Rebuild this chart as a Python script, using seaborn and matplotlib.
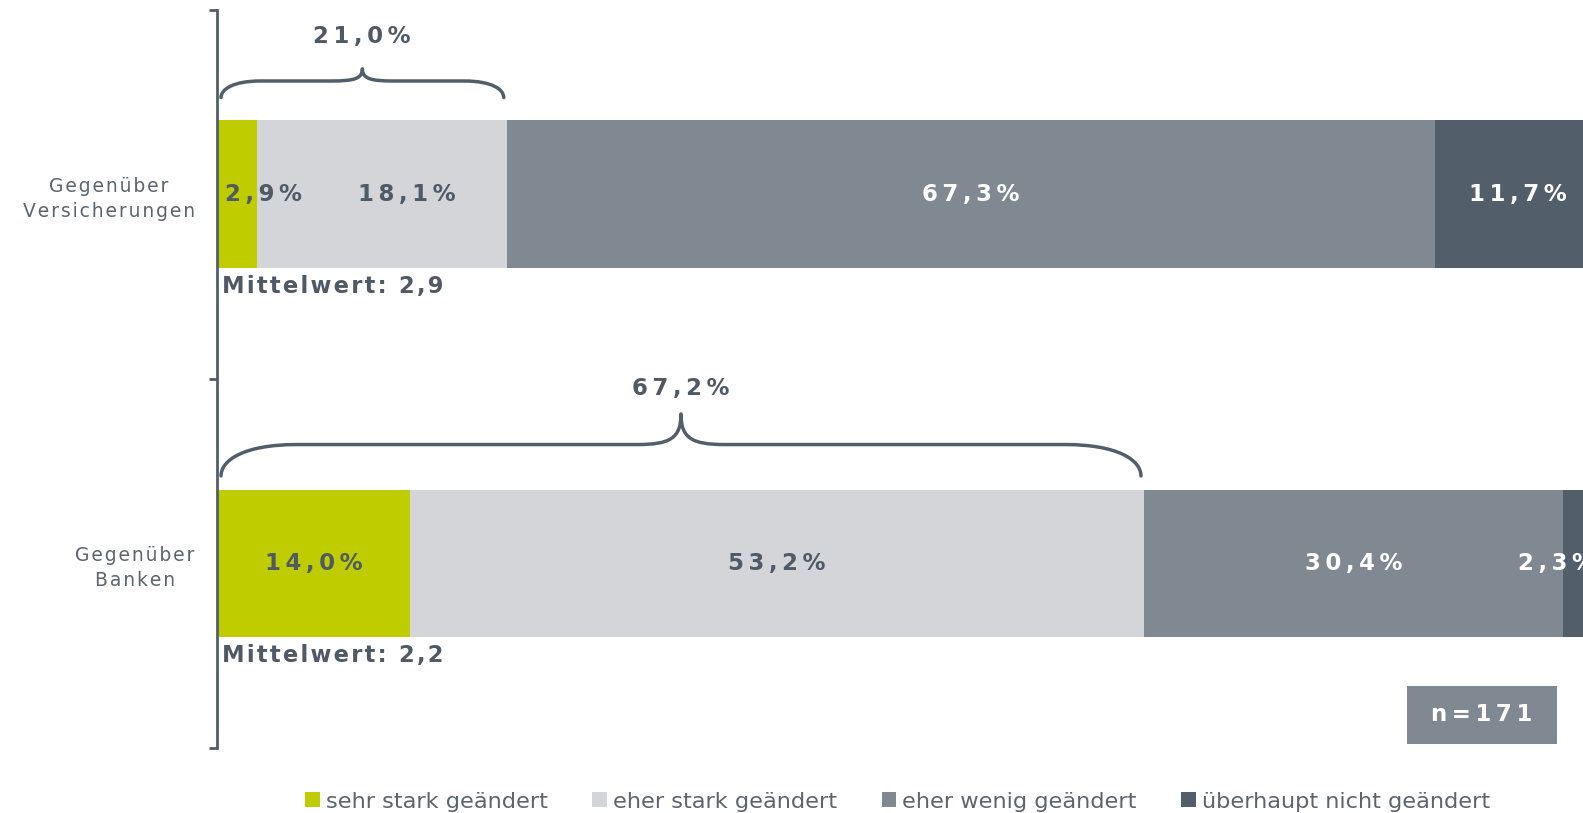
import numpy as np
import pandas as pd
import matplotlib
matplotlib.use("Agg")
import matplotlib.pyplot as plt
import seaborn as sns
from matplotlib.path import Path
from matplotlib.patches import PathPatch, Patch, Rectangle

# === DATOS ===
categorias = ["Gegenüber\nVersicherungen", "Gegenüber\nBanken"]
series = ["sehr stark geändert", "eher stark geändert",
          "eher wenig geändert", "überhaupt nicht geändert"]
sehr_stark = [2.9, 14.0]
eher_stark = [18.1, 53.2]
eher_wenig = [67.3, 30.4]
gar_nicht = [11.7, 2.3]
summen_stark = [21.0, 67.2]
mittelwerte = ["2,9", "2,2"]
n_text = "n=171"

colores = ["#bfcc00", "#d3d5d9", "#808891", "#525e6a"]
texto_oscuro = "#4f5a66"
col_texto_seg = [texto_oscuro, texto_oscuro, "white", "white"]
# desplazamiento de las etiquetas pequeñas (en % del eje)
label_dx = [[1.9, 1.8, 0.0, 0.2], [0.0, 0.0, 0.0, -1.6]]

HAIR = "\u200a"


def espaciado(s, sep=HAIR):
    # simula el espaciado entre letras del original
    return "\n".join(sep.join(linea) for linea in s.split("\n"))


df = pd.DataFrame({"cat": categorias, series[0]: sehr_stark, series[1]: eher_stark,
                   series[2]: eher_wenig, series[3]: gar_nicht})
valores = df[series].to_numpy()
acumulado = np.cumsum(valores, axis=1)

sns.set_theme(style="white")
plt.rcParams["font.family"] = ["DejaVu Sans"]

fig = plt.figure(figsize=(15.83, 8.13), dpi=100)
ax = fig.add_axes([0.137, 0.08, 0.863, 0.908])

# barras apiladas: de la suma total hacia la primera serie
for i in reversed(range(len(series))):
    sns.barplot(x=acumulado[:, i], y=df["cat"], orient="h", color=colores[i],
                width=0.4, saturation=1, ax=ax, linewidth=0)

ax.set_xlim(0, 99.05)
ax.set_ylim(1.5, -0.5)

# etiquetas de los segmentos
for r in range(len(categorias)):
    for i in range(len(series)):
        izq = acumulado[r, i] - valores[r, i]
        xc = izq + valores[r, i] / 2 + label_dx[r][i]
        ax.text(xc, r, espaciado(f"{valores[r, i]:.1f}%".replace(".", ","), HAIR * 2),
                ha="center", va="center", fontsize=16.5, fontweight="bold",
                color=col_texto_seg[i], clip_on=False)
    ax.text(0.4, r + 0.25, espaciado(f"Mittelwert: {mittelwerte[r]}"),
            ha="left", va="center", fontsize=16.3, fontweight="bold", color=texto_oscuro)


def llave(ax, x0, x1, y_end, y_mid, y_peak, color):
    w = x1 - x0
    xc = (x0 + x1) / 2
    re = min(0.14 * w, 5.5)
    rc = min(0.11 * w, 3.2)
    yq = y_end - 0.5 * (y_end - y_mid)
    yp = y_mid - (y_mid - y_peak) * 0.2
    verts = [
        (x0, y_end),
        (x0, yq), (x0 + re * 0.3, y_mid), (x0 + re, y_mid),
        (xc - rc, y_mid),
        (xc - rc * 0.25, y_mid), (xc, yp), (xc, y_peak),
        (xc, yp), (xc + rc * 0.25, y_mid), (xc + rc, y_mid),
        (x1 - re, y_mid),
        (x1 - re * 0.3, y_mid), (x1, yq), (x1, y_end),
    ]
    codes = [Path.MOVETO, Path.CURVE4, Path.CURVE4, Path.CURVE4, Path.LINETO,
             Path.CURVE4, Path.CURVE4, Path.CURVE4, Path.CURVE4, Path.CURVE4, Path.CURVE4,
             Path.LINETO, Path.CURVE4, Path.CURVE4, Path.CURVE4]
    ax.add_patch(PathPatch(Path(verts, codes), fill=False, edgecolor=color, lw=2.5,
                           capstyle="round", joinstyle="round", clip_on=False))


for r in range(len(categorias)):
    y_end = r - 0.262 + 0.025 * r
    llave(ax, 0.3, summen_stark[r] - 0.2, y_end, y_end - 0.045 - 0.04 * r,
          y_end - 0.078 - 0.09 * r, "#525e6a")
    ax.text(summen_stark[r] / 2, y_end - 0.165 - 0.073 * r,
            espaciado(f"{summen_stark[r]:.1f}%".replace(".", ","), HAIR * 2),
            ha="center", va="center", fontsize=16.5, fontweight="bold", color=texto_oscuro)

# caja n=171
ax.add_patch(Rectangle((86.3, 1.332), 10.85, 0.157, facecolor="#808891", edgecolor="none",
                       clip_on=False))
ax.text(91.7, 1.41, espaciado(n_text, HAIR * 2), ha="center", va="center", fontsize=16.5,
        fontweight="bold", color="white")

# ejes
for s in ["top", "right", "bottom"]:
    ax.spines[s].set_visible(False)
ax.spines["left"].set_color("#525e6a")
ax.spines["left"].set_linewidth(2)
ax.set_xticks([])
ax.set_xlabel("")
ax.set_ylabel("")
ax.set_yticks([0, 1], [espaciado(c) for c in categorias])
ax.set_yticks([-0.5, 0.5, 1.5], minor=True)
ax.tick_params(axis="y", which="minor", length=6, width=2, color="#525e6a", left=True)
ax.tick_params(axis="y", which="major", length=0, pad=16, labelsize=13.5, labelcolor="#5b6570")
for lab in ax.get_yticklabels():
    lab.set_multialignment("center")
    lab.set_linespacing(1.4)

# leyenda
handles = [Patch(facecolor=c, edgecolor="none") for c in colores]
fig.legend(handles, series, loc="center", bbox_to_anchor=(0.567, 0.014), ncol=4,
           frameon=False, fontsize=16.2, handlelength=0.65, handleheight=0.65,
           handletextpad=0.25, columnspacing=2.0, labelcolor="#5b6570")

fig.savefig("out.png", dpi=100)
